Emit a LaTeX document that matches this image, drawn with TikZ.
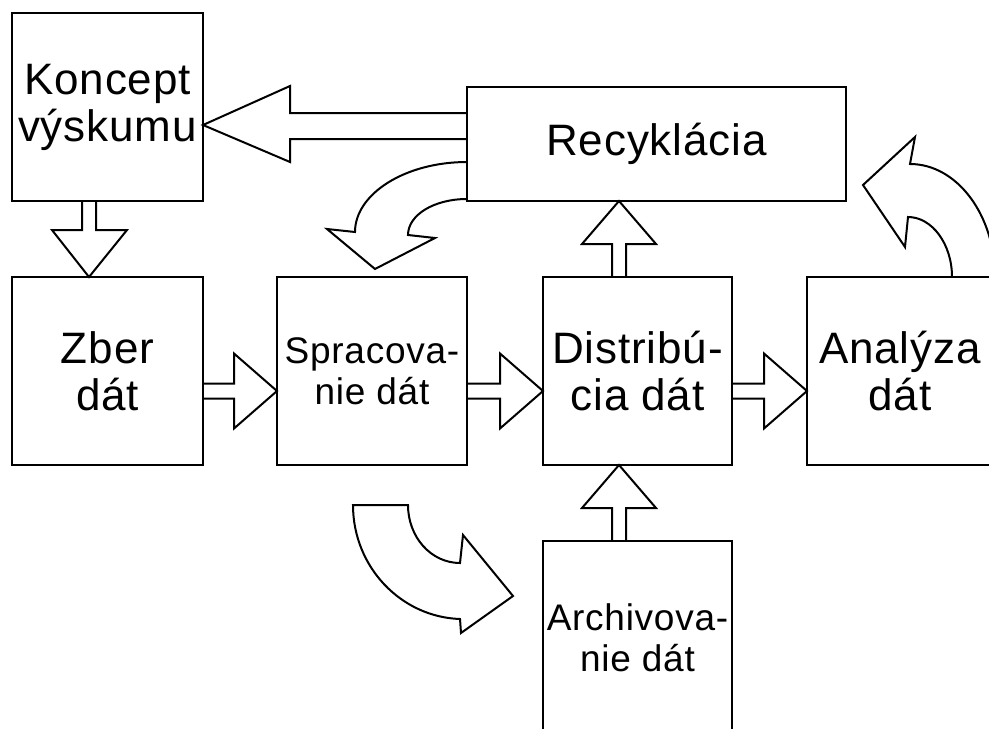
\documentclass[tikz,border=0pt]{standalone}
\usepackage{fontspec}
\setmainfont{Liberation Sans}[LetterSpace=2]
\usetikzlibrary{calc}

\newcommand{\bigtext}{\fontsize{44}{47}\selectfont}
\newcommand{\smalltext}{\fontsize{37}{41}\selectfont}

\tikzset{
  box/.style={draw, line width=2pt, inner sep=0pt, outer sep=0pt, align=center, font=\bigtext},
  blockarrow/.style={draw, line width=2pt, line join=miter},
}

% block arrow pointing right, from #1.east to #2.west, at height #3
\newcommand{\harrow}[3]{%
  \draw[blockarrow] ($(#1.east |- 0,#3)+(0,-7.5)$) -- ($(#2.west |- 0,#3)+(-43,-7.5)$)
    -- ($(#2.west |- 0,#3)+(-43,-37.5)$) -- (#2.west |- 0,#3)
    -- ($(#2.west |- 0,#3)+(-43,37.5)$) -- ($(#2.west |- 0,#3)+(-43,7.5)$)
    -- ($(#1.east |- 0,#3)+(0,7.5)$);}

% block arrow pointing up, from #1.north to #2.south, at x #3
\newcommand{\varrow}[3]{%
  \draw[blockarrow] ($(#1.north -| #3,0)+(-7,0)$) -- ($(#2.south -| #3,0)+(-7,43)$)
    -- ($(#2.south -| #3,0)+(-37,43)$) -- (#2.south -| #3,0)
    -- ($(#2.south -| #3,0)+(37,43)$) -- ($(#2.south -| #3,0)+(7,43)$)
    -- ($(#1.north -| #3,0)+(7,0)$);}

\begin{document}
\begin{tikzpicture}[x=1pt,y=-1pt]

    \useasboundingbox (0,0) rectangle (989,729);
    \clip (0,0) rectangle (989,729);

    % Boxes
    \node[box, minimum width=191pt, minimum height=188pt] (koncept) at (107.5,107) {Koncept\\výskumu};
    \node[box, minimum width=379pt, minimum height=114pt] (recyk) at (656.5,144) {Recyklácia};
    \node[box, minimum width=191pt, minimum height=188pt] (zber) at (107.5,371) {Zber\\dát};
    \node[box, minimum width=190pt, minimum height=188pt, font=\smalltext] (sprac) at (372,371) {Spracova-\\nie dát};
    \node[box, minimum width=189pt, minimum height=188pt] (distr) at (637.5,371) {Distribú-\\cia dát};
    \node[box, minimum width=186pt, minimum height=188pt] (analyza) at (900,371) {Analýza\\dát};
    \node[box, minimum width=189pt, minimum height=194pt, font=\smalltext] (archiv) at (637.5,638) {Archivova-\\nie dát};

    % Straight block arrows
    \draw[blockarrow] ($(koncept.south -| 89,0)+(-7,0)$) -- (82,230) -- (52,230)
        -- (zber.north -| 89,0) -- (127,230) -- (96,230) -- ($(koncept.south -| 89,0)+(7,0)$);
    \draw[blockarrow] ($(recyk.west |- 0,126)+(0,-13)$) -- (290,113) -- (290,86)
        -- (koncept.east |- 0,125) -- (290,162) -- (290,139) -- ($(recyk.west |- 0,126)+(0,13)$);
    \harrow{zber}{sprac}{391}
    \harrow{sprac}{distr}{391}
    \harrow{distr}{analyza}{391}
    \varrow{distr}{recyk}{619}
    \varrow{archiv}{distr}{619}

    % Curved block arrows
    \draw[blockarrow] (467,162) .. controls (405,162) and (355,194) .. (355,232)
        -- (327,229) -- (375,269) -- (435,238) -- (408,235)
        .. controls (408,215) and (434,199) .. (467,199);
    \draw[blockarrow] (353,505) .. controls (353,567) and (401,617) .. (460,619)
        -- (461,633) -- (513,596) -- (463,535) -- (460,563)
        .. controls (431,563) and (408,537) .. (408,505) -- cycle;
    \draw[blockarrow] (995,277) .. controls (995,215) and (957,164) .. (910,164)
        -- (915,137) -- (863,185) -- (905,247) -- (908,217)
        .. controls (932,217) and (952,244) .. (952,277);

\end{tikzpicture}
\end{document}
